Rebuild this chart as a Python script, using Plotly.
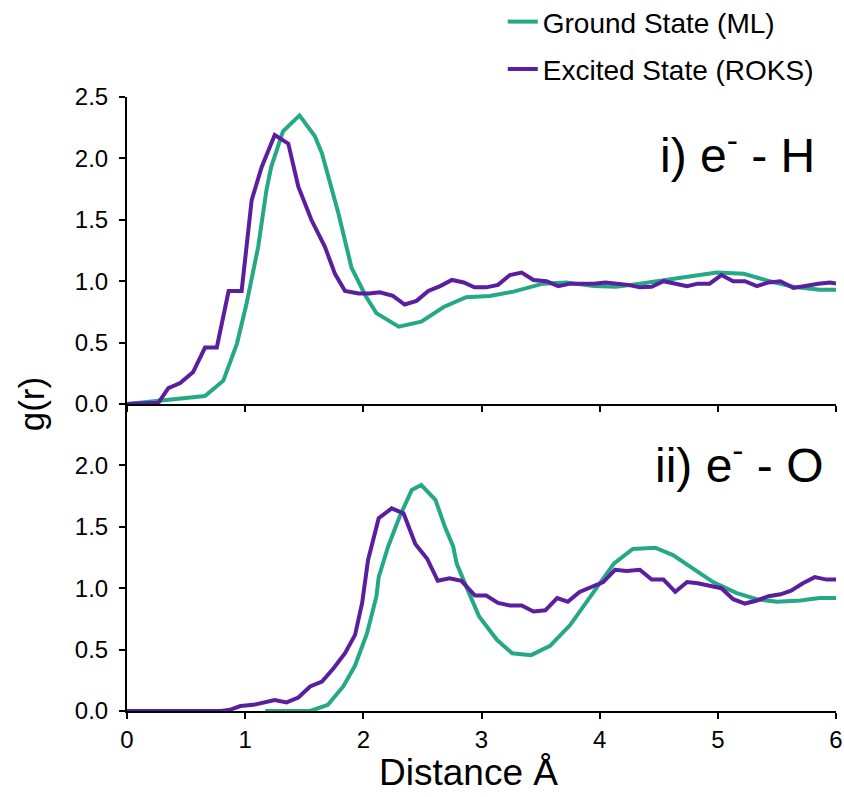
import plotly.graph_objects as go
from plotly.subplots import make_subplots

# ---- data: e- - H (top panel) ----
h_ground_r = [0.0, 0.66, 0.815, 0.93, 1.01, 1.11, 1.18, 1.22, 1.32, 1.46, 1.59, 1.65, 1.79, 1.90,
              2.02, 2.11, 2.30, 2.49, 2.68, 2.87, 3.07, 3.27, 3.52, 3.72, 3.95, 4.14, 4.34, 4.57,
              4.79, 4.99, 5.22, 5.44, 5.64, 5.86, 6.0]
h_ground_g = [0.0, 0.065, 0.19, 0.49, 0.81, 1.28, 1.74, 1.93, 2.22, 2.35, 2.18, 2.04, 1.55, 1.11,
              0.88, 0.74, 0.63, 0.67, 0.79, 0.87, 0.88, 0.915, 0.98, 0.99, 0.96, 0.955, 0.98, 1.01,
              1.04, 1.07, 1.06, 1.00, 0.955, 0.93, 0.93]

h_excited_r = [0.0, 0.265, 0.35, 0.45, 0.56, 0.66, 0.76, 0.86, 0.97, 1.055, 1.14, 1.25, 1.365, 1.45,
               1.56, 1.675, 1.76, 1.845, 1.96, 2.05, 2.14, 2.25, 2.35, 2.45, 2.55, 2.65, 2.75, 2.85,
               2.94, 3.04, 3.14, 3.24, 3.34, 3.44, 3.55, 3.65, 3.75, 3.85, 3.95, 4.05, 4.14, 4.24,
               4.34, 4.44, 4.54, 4.64, 4.74, 4.83, 4.93, 5.03, 5.13, 5.23, 5.33, 5.43, 5.53, 5.64,
               5.75, 5.85, 5.95, 6.0]
h_excited_g = [0.0, 0.01, 0.13, 0.17, 0.26, 0.46, 0.46, 0.92, 0.92, 1.66, 1.93, 2.19, 2.12, 1.77,
               1.50, 1.28, 1.06, 0.92, 0.90, 0.90, 0.91, 0.88, 0.81, 0.84, 0.92, 0.96, 1.01, 0.99,
               0.95, 0.95, 0.97, 1.05, 1.07, 1.01, 1.00, 0.96, 0.98, 0.98, 0.98, 0.99, 0.98, 0.97,
               0.95, 0.955, 1.00, 0.98, 0.96, 0.98, 0.98, 1.05, 1.00, 1.00, 0.96, 0.99, 1.00, 0.945,
               0.965, 0.98, 0.99, 0.98]

# ---- data: e- - O (bottom panel) ----
o_ground_r = [1.17, 1.55, 1.70, 1.83, 1.93, 2.03, 2.11, 2.13, 2.21, 2.31, 2.41, 2.49, 2.61, 2.69,
              2.76, 2.79, 2.89, 2.98, 3.13, 3.26, 3.42, 3.58, 3.75, 3.92, 4.12, 4.28, 4.47, 4.62,
              4.79, 4.96, 5.16, 5.33, 5.50, 5.70, 5.86, 6.0]
o_ground_g = [0.0, 0.0, 0.05, 0.20, 0.37, 0.63, 0.93, 1.09, 1.34, 1.59, 1.80, 1.84, 1.72, 1.50,
              1.34, 1.20, 0.97, 0.77, 0.58, 0.47, 0.455, 0.53, 0.70, 0.93, 1.20, 1.32, 1.33, 1.27,
              1.16, 1.05, 0.96, 0.91, 0.89, 0.90, 0.92, 0.92]

o_excited_r = [0.0, 0.80, 0.87, 0.96, 1.07, 1.15, 1.25, 1.35, 1.45, 1.55, 1.65, 1.75, 1.845, 1.93,
               1.99, 2.04, 2.13, 2.24, 2.34, 2.44, 2.54, 2.63, 2.73, 2.83, 2.945, 3.04, 3.14, 3.24,
               3.34, 3.44, 3.54, 3.64, 3.73, 3.83, 3.93, 4.03, 4.13, 4.23, 4.34, 4.44, 4.54, 4.64,
               4.74, 4.83, 4.93, 5.03, 5.13, 5.23, 5.33, 5.43, 5.53, 5.62, 5.72, 5.82, 5.92, 6.0]
o_excited_g = [0.0, 0.0, 0.01, 0.04, 0.05, 0.07, 0.09, 0.07, 0.11, 0.20, 0.24, 0.35, 0.47, 0.62,
               0.88, 1.23, 1.57, 1.65, 1.61, 1.36, 1.24, 1.06, 1.08, 1.06, 0.94, 0.94, 0.88, 0.86,
               0.86, 0.81, 0.82, 0.92, 0.89, 0.97, 1.01, 1.05, 1.15, 1.14, 1.15, 1.07, 1.07, 0.97,
               1.05, 1.04, 1.02, 1.00, 0.91, 0.875, 0.90, 0.935, 0.95, 0.98, 1.04, 1.09, 1.07, 1.07]

x_ticks = [0, 1, 2, 3, 4, 5, 6]
y_ticks_top = [0.0, 0.5, 1.0, 1.5, 2.0, 2.5]
y_ticks_bottom = [0.0, 0.5, 1.0, 1.5, 2.0]

series_names = ["Ground State (ML)", "Excited State (ROKS)"]
GREEN = "#25a885"
PURPLE = "#5a1e9e"
FONT = "Liberation Sans, Arial, sans-serif"

fig = make_subplots(rows=2, cols=1, shared_xaxes=True, vertical_spacing=0)

fig.add_trace(go.Scatter(x=h_ground_r, y=h_ground_g, mode="lines", name=series_names[0],
                         line=dict(color=GREEN, width=4), legendgroup="g"), row=1, col=1)
fig.add_trace(go.Scatter(x=h_excited_r, y=h_excited_g, mode="lines", name=series_names[1],
                         line=dict(color=PURPLE, width=4), legendgroup="e"), row=1, col=1)
fig.add_trace(go.Scatter(x=o_ground_r, y=o_ground_g, mode="lines", name=series_names[0],
                         line=dict(color=GREEN, width=4), legendgroup="g", showlegend=False), row=2, col=1)
fig.add_trace(go.Scatter(x=o_excited_r, y=o_excited_g, mode="lines", name=series_names[1],
                         line=dict(color=PURPLE, width=4), legendgroup="e", showlegend=False), row=2, col=1)

axis_common = dict(showline=True, linecolor="black", linewidth=2, ticks="outside", ticklen=6,
                   tickwidth=1.5, tickcolor="black", showgrid=False, zeroline=False,
                   tickfont=dict(family=FONT, size=24, color="black"), mirror=False)

fig.update_xaxes(range=[0, 6], tickvals=x_ticks, ticklabelstandoff=0, **axis_common)
fig.update_xaxes(showticklabels=False, row=1, col=1)
fig.update_yaxes(range=[0, 2.5], tickformat=".1f", ticklabelstandoff=6, **axis_common)
fig.update_yaxes(tickvals=y_ticks_top, row=1, col=1)
fig.update_yaxes(tickvals=y_ticks_bottom, row=2, col=1)

fig.update_layout(
    width=844, height=797,
    margin=dict(l=127, r=8, t=97, b=86, autoexpand=False),
    plot_bgcolor="white", paper_bgcolor="white",
    font=dict(family=FONT, color="black"),
    legend=dict(x=0.53, y=1.163, xanchor="left", yanchor="top",
                font=dict(family=FONT, size=28, color="black"),
                bgcolor="rgba(0,0,0,0)", tracegroupgap=8, itemwidth=30),
    annotations=[
        dict(text="i) e<sup>-</sup> - H", xref="paper", yref="paper", x=0.973, y=0.91,
             xanchor="right", yanchor="middle", showarrow=False,
             font=dict(family=FONT, size=48, color="black")),
        dict(text="ii) e<sup>-</sup> - O", xref="paper", yref="paper", x=0.986, y=0.406,
             xanchor="right", yanchor="middle", showarrow=False,
             font=dict(family=FONT, size=48, color="black")),
        dict(text="g(r)", xref="paper", yref="paper", x=-0.135, y=0.5,
             xanchor="center", yanchor="middle", textangle=-90, showarrow=False,
             font=dict(family=FONT, size=35, color="black")),
        dict(text="Distance Å", xref="paper", yref="paper", x=0.481, y=-0.1365,
             xanchor="center", yanchor="bottom", showarrow=False,
             font=dict(family=FONT, size=37, color="black")),
    ],
)

fig.write_html("out.html")
